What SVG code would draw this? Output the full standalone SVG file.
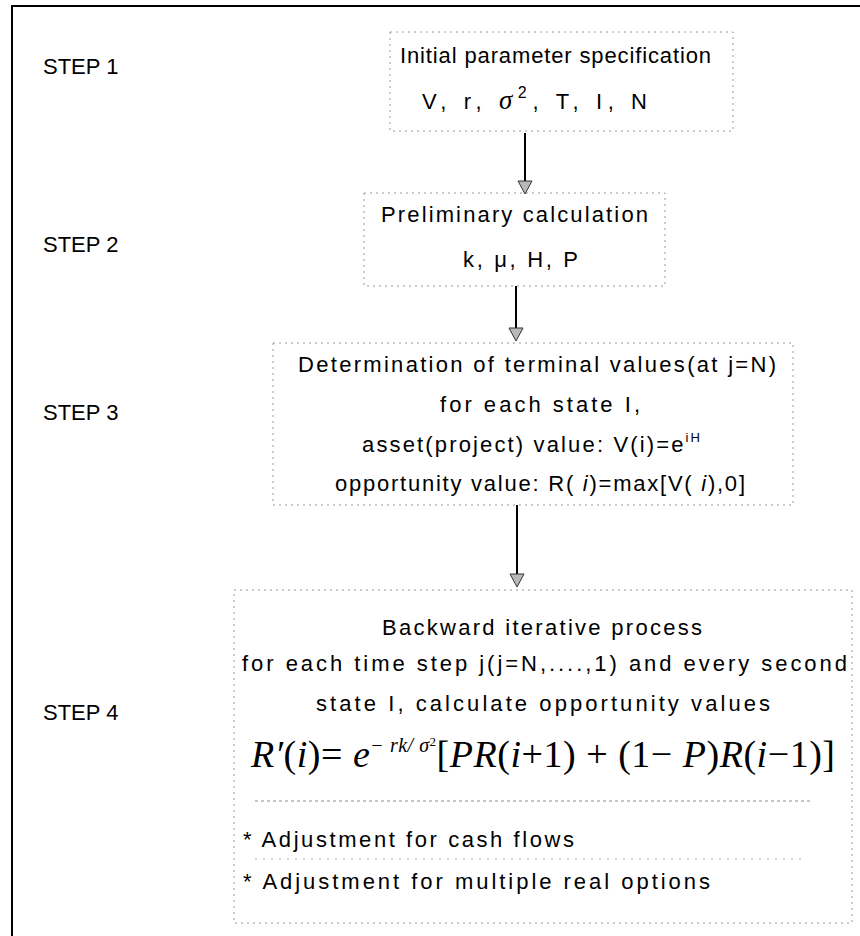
<svg xmlns="http://www.w3.org/2000/svg" width="860" height="936" viewBox="0 0 860 936">
<defs>
<style>
.frame{fill:none;stroke:#000;stroke-width:2}
.box{fill:none;stroke:#9a9a9a;stroke-width:1;stroke-dasharray:2 4}
.sep{fill:none;stroke:#8a8a8a;stroke-width:1;stroke-dasharray:3 3}
.sep2{fill:none;stroke:#b0b0b0;stroke-width:1;stroke-dasharray:2 6}
.t{font-family:"Liberation Sans",Arial,sans-serif;font-size:22px;fill:#000}
.step{font-family:"Liberation Sans",Arial,sans-serif;font-size:22px;fill:#000}
.m{font-family:"Liberation Serif","Times New Roman",serif;fill:#000}
.it{font-style:italic}
.conn line{stroke:#000;stroke-width:2}
.conn polygon{fill:#b8b8b8;stroke:#333;stroke-width:1}
</style>
</defs>
<rect width="860" height="936" fill="#fff"/>
<path class="frame" d="M12,936 V6 H860"/>

<g id="labels">
<text class="step" x="43" y="74">STEP 1</text>
<text class="step" x="43" y="252">STEP 2</text>
<text class="step" x="43" y="420">STEP 3</text>
<text class="step" x="43" y="720">STEP 4</text>
</g>

<g id="step1">
<rect class="box" x="390" y="32" width="343" height="99"/>
<text class="t" x="400" y="63" textLength="311" lengthAdjust="spacing">Initial parameter specification</text>
<text class="t" x="422" y="109" textLength="225" lengthAdjust="spacing">V, r,  <tspan class="m it" font-size="27">σ</tspan><tspan font-size="16" dy="-11">2</tspan><tspan dy="11">, T, I, N</tspan></text>
</g>

<g id="step2">
<rect class="box" x="364" y="193" width="301" height="93"/>
<text class="t" x="381" y="222" textLength="267" lengthAdjust="spacing">Preliminary calculation</text>
<text class="t" x="463" y="267" textLength="115" lengthAdjust="spacing">k, μ, H, P</text>
</g>

<g id="step3">
<rect class="box" x="273" y="343" width="520" height="162"/>
<text class="t" x="298" y="372" textLength="478" lengthAdjust="spacing">Determination of terminal values(at j=N)</text>
<text class="t" x="440" y="412" textLength="200" lengthAdjust="spacing">for each state I,</text>
<text class="t" x="362" y="452" textLength="338" lengthAdjust="spacing">asset(project) value: V(i)=e<tspan font-size="13" dy="-10">iH</tspan></text>
<text class="t" x="335" y="491" textLength="410" lengthAdjust="spacing">opportunity value: R( <tspan class="it">i</tspan>)=max[V( <tspan class="it">i</tspan>),0]</text>
</g>

<g id="step4">
<rect class="box" x="234" y="590" width="618" height="333"/>
<text class="t" x="382" y="635" textLength="320" lengthAdjust="spacing">Backward iterative process</text>
<text class="t" x="242" y="671" textLength="605" lengthAdjust="spacing">for each time step j(j=N,....,1) and every second</text>
<text class="t" x="316" y="711" textLength="454" lengthAdjust="spacing">state I, calculate opportunity values</text>
<text class="m" x="251" y="767" font-size="38" textLength="584" lengthAdjust="spacing"><tspan class="it">R′</tspan>(<tspan class="it">i</tspan>)= <tspan class="it">e</tspan><tspan font-size="20" dy="-15"><tspan class="it">− rk/ σ</tspan><tspan font-size="13" dy="-6">2</tspan></tspan><tspan dy="21">[</tspan><tspan class="it">PR</tspan>(<tspan class="it">i</tspan>+1) + (1− <tspan class="it">P</tspan>)<tspan class="it">R</tspan>(<tspan class="it">i</tspan>−1)]</text>
<line class="sep" x1="255" y1="801" x2="810" y2="801"/>
<text class="t" x="243" y="847" textLength="331" lengthAdjust="spacing">* Adjustment for cash flows</text>
<line class="sep2" x1="255" y1="859" x2="805" y2="859"/>
<text class="t" x="243" y="889" textLength="467" lengthAdjust="spacing">* Adjustment for multiple real options</text>
</g>

<g id="connectors" class="conn">
<line x1="525" y1="133" x2="525" y2="182"/>
<polygon points="518,181 532,181 525,194"/>
<line x1="516" y1="286" x2="516" y2="329"/>
<polygon points="509,328 523,328 516,341"/>
<line x1="517" y1="505" x2="517" y2="575"/>
<polygon points="510,574 524,574 517,587"/>
</g>
</svg>
